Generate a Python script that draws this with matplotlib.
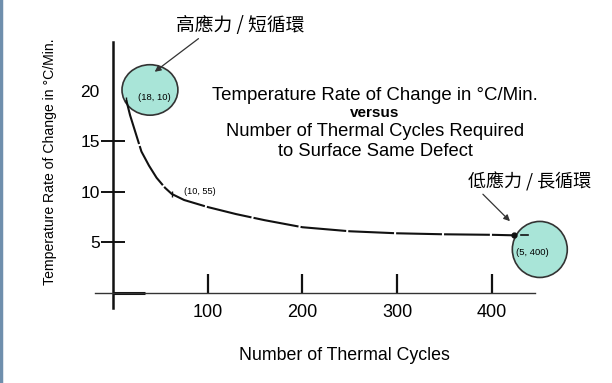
import matplotlib
matplotlib.use("Agg")
import matplotlib.pyplot as plt
from matplotlib.patches import Ellipse
from matplotlib.lines import Line2D

# curve: cycles vs rate of change (°C/min)
cycles = [14, 18, 24, 30, 38, 46, 55, 62, 75, 100, 130, 160, 200, 250, 300, 350, 400, 423]
rate = [19.1, 17.6, 15.8, 14.0, 12.6, 11.4, 10.4, 9.8, 9.2, 8.5, 7.8, 7.2, 6.5, 6.1, 5.9, 5.8, 5.75, 5.7]

x_ticks = [100, 200, 300, 400]
y_ticks = [5, 10, 15, 20]

point_labels = ["(18, 10)", "(10, 55)", "(5, 400)"]
high_stress = "高應力 / 短循環"
low_stress = "低應力 / 長循環"

title_lines = ["Temperature Rate of Change in °C/Min.", "versus",
               "Number of Thermal Cycles Required", "to Surface Same Defect"]

circle_color = "#a9e5d8"
ink = "#111111"
cjk = ["Noto Sans CJK TC", "DejaVu Sans"]

plt.rcParams["font.family"] = ["Liberation Sans", "DejaVu Sans"]

fig = plt.figure(figsize=(6.12, 3.83), dpi=100)
ax = fig.add_axes([95 / 612, 75 / 383, 439.6 / 612, 265.5 / 383])
ax.set_xlim(-19, 445)
ax.set_ylim(-1.5, 24.8)

# axes crossing at the origin
for s in ["top", "right"]:
    ax.spines[s].set_visible(False)
ax.spines["left"].set_position(("data", 0))
ax.spines["bottom"].set_position(("data", 0))
ax.spines["left"].set_linewidth(1.8)
ax.spines["bottom"].set_linewidth(1.0)
ax.spines["left"].set_color(ink)
ax.spines["bottom"].set_color("#333333")

ax.set_xticks(x_ticks)
ax.set_yticks(y_ticks)
ax.tick_params(axis="x", direction="in", length=14, width=1.6, pad=8,
               labelsize=13, color=ink)
ax.tick_params(axis="y", direction="inout", length=17, width=1.4, pad=1,
               labelsize=12.5, color=ink)
ax.yaxis.get_major_ticks()[-1].tick1line.set_visible(False)

# short thick stub along the x axis at the origin
ax.plot([0, 34], [0, 0], color=ink, lw=2.2, solid_capstyle="butt")

# circles behind the curve
ax.add_patch(Ellipse((39, 20.1), 59, 5.0, facecolor=circle_color,
                     edgecolor="#333333", lw=1.2, zorder=2))
ax.add_patch(Ellipse((450.5, 4.3), 58, 5.55, facecolor=circle_color,
                     edgecolor="#333333", lw=1.2, zorder=2, clip_on=False))

ax.plot(cycles, rate, color=ink, lw=1.5, linestyle=(0, (22, 1)), zorder=3)
ax.plot(cycles[-1], rate[-1], "o", color=ink, ms=3.5, zorder=4)
ax.plot([cycles[0], cycles[7]], [rate[0], rate[7]], "|", color=ink, ms=5, zorder=4)
ax.plot([431, 438], [5.75, 5.75], color=ink, lw=1.2, zorder=4)

ax.text(44, 19.4, point_labels[0], fontsize=6.8, ha="center", va="center", zorder=5)
ax.text(75, 10.0, point_labels[1], fontsize=6.6, ha="left", va="center", zorder=5)
ax.text(443, 4.0, point_labels[2], fontsize=6.8, ha="center", va="center",
        zorder=5, clip_on=False)

ax.annotate(high_stress, xy=(44, 21.9), xytext=(67, 26.5), family=cjk,
            fontsize=13.5, ha="left", va="center", annotation_clip=False,
            arrowprops=dict(arrowstyle="-|>", color="#333333", lw=0.9,
                            shrinkA=0, shrinkB=0, mutation_scale=9,
                            relpos=(0.2, 0.0)))
ax.annotate(low_stress, xy=(419, 7.1), xytext=(374.5, 11.0), family=cjk,
            fontsize=13, ha="left", va="center", annotation_clip=False,
            arrowprops=dict(arrowstyle="-|>", color="#333333", lw=0.9,
                            shrinkA=0, shrinkB=0, mutation_scale=9,
                            relpos=(0.1, 0.0)))

# chart caption block
cx = 375 / 612
fig.text(cx, 1 - 95 / 383, title_lines[0], fontsize=13.4, ha="center", va="center")
fig.text(cx, 1 - 113 / 383, title_lines[1], fontsize=11, ha="center", va="center",
         fontweight="bold")
fig.text(cx, 1 - 131 / 383, title_lines[2], fontsize=13.2, ha="center", va="center")
fig.text(cx, 1 - 151 / 383, title_lines[3], fontsize=13.2, ha="center", va="center")

fig.text(50 / 612, 1 - 162 / 383, "Temperature Rate of Change in °C/Min.",
         rotation=90, fontsize=10.1, ha="center", va="center")
fig.text(344 / 612, 1 - 355 / 383, "Number of Thermal Cycles", fontsize=12.8,
         ha="center", va="center")

# thin blue-grey frame edge on the left
fig.add_artist(Line2D([0.002, 0.002], [0, 1], color="#6f8fad", lw=2.5))

fig.savefig("out.png", dpi=100)
